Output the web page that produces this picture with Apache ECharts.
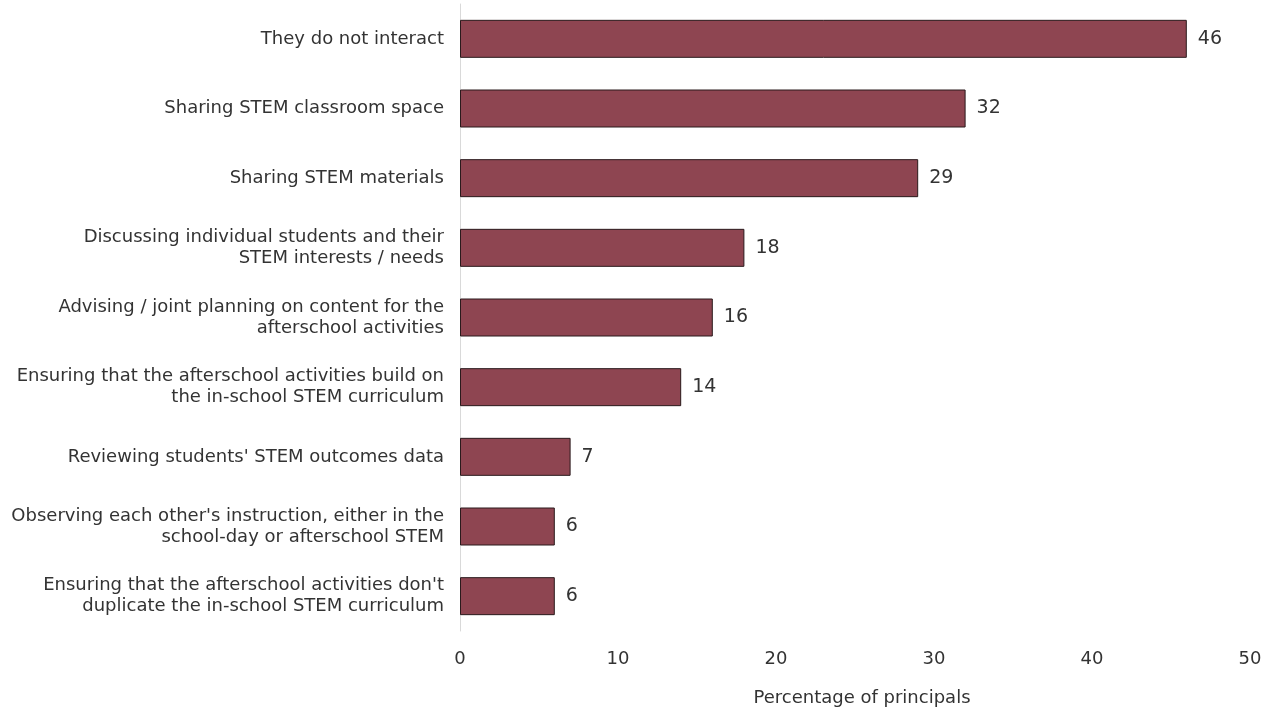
<!DOCTYPE html>
<html>
<head>
<meta charset="utf-8">
<script src="https://cdn.jsdelivr.net/npm/echarts@6/dist/echarts.min.js"></script>
<style>
  html, body { margin: 0; padding: 0; background: #ffffff; overflow: hidden; }
  #chart { width: 1268px; height: 712px; }
</style>
</head>
<body>
<div id="chart"></div>
<script>
// Ways school-day and afterschool STEM staff interact (percentage of principals)
const categories = [
  'They do not interact',
  'Sharing STEM classroom space',
  'Sharing STEM materials',
  'Discussing individual students and their\nSTEM interests / needs',
  'Advising / joint planning on content for the\nafterschool activities',
  'Ensuring that the afterschool activities build on\nthe in-school STEM curriculum',
  "Reviewing students' STEM outcomes data",
  "Observing each other's instruction, either in the\nschool-day or afterschool STEM",
  "Ensuring that the afterschool activities don't\nduplicate the in-school STEM curriculum"
];
const values = [46, 32, 29, 18, 16, 14, 7, 6, 6];
const axisTicks = [0, 10, 20, 30, 40, 50];
const axisTitle = 'Percentage of principals';

const FONT = '"DejaVu Sans", Verdana, sans-serif';

const chart = echarts.init(document.getElementById('chart'));
chart.setOption({
  animation: false,
  grid: { left: 460, right: 18, top: 4, height: 633, containLabel: false },
  xAxis: {
    type: 'value',
    min: axisTicks[0],
    max: axisTicks[axisTicks.length - 1],
    interval: 10,
    name: axisTitle,
    nameLocation: 'middle',
    nameGap: 58,
    nameTextStyle: { fontFamily: FONT, fontSize: 18, color: '#333333', padding: [0, 0, 0, 14] },
    axisLine: { show: false },
    axisTick: { show: false },
    splitLine: { show: false },
    axisLabel: { margin: 19, fontFamily: FONT, fontSize: 18, color: '#333333' }
  },
  yAxis: {
    type: 'category',
    inverse: true,
    data: categories,
    axisLine: { show: true, lineStyle: { color: '#d9d9d9', width: 1 } },
    axisTick: { show: false },
    axisLabel: {
      margin: 16,
      align: 'right',
      lineHeight: 21,
      fontFamily: FONT,
      fontSize: 18,
      color: '#333333'
    }
  },
  series: [{
    type: 'bar',
    data: values,
    barWidth: 38,
    itemStyle: { color: '#8e4551', borderColor: '#2a1a1c', borderWidth: 1 },
    label: {
      show: true,
      position: 'right',
      distance: 11,
      fontFamily: FONT,
      fontSize: 19,
      color: '#333333'
    }
  }]
});
</script>
</body>
</html>
